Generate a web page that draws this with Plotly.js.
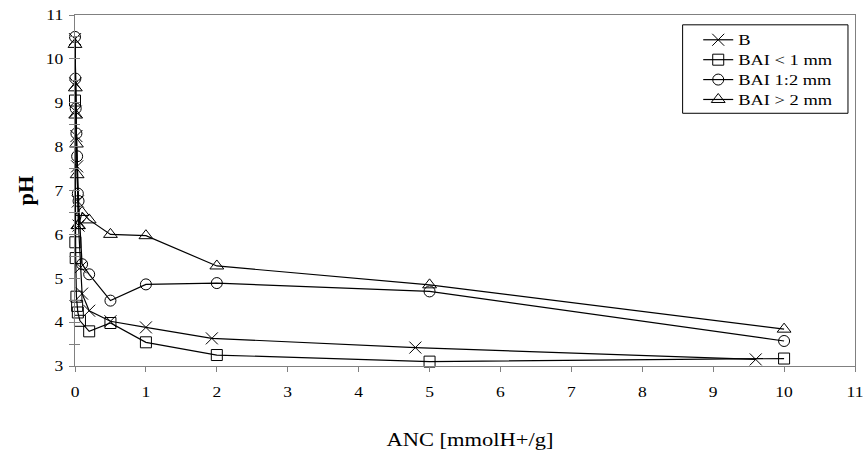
<!DOCTYPE html>
<html>
<head>
<meta charset="utf-8">
<script src="https://cdn.plot.ly/plotly-3.0.1.min.js"></script>
<style>
  html, body { margin: 0; padding: 0; background: #fff; }
  #chart { width: 865px; height: 475px; }
</style>
</head>
<body>
<div id="chart"></div>
<script>
// Titration curves: pH against acid neutralising capacity
const seriesNames = ["B", "BAI < 1 mm", "BAI 1:2 mm", "BAI > 2 mm"];

const xB = [0, 0.005, 0.01, 0.02, 0.03, 0.04, 0.05, 0.08, 0.1, 0.2, 0.5, 1, 1.93, 4.8, 9.6];
const yB = [10.45, 9.44, 8.8, 8.24, 7.55, 6.75, 6.2, 5.25, 4.65, 4.26, 4.02, 3.88, 3.63, 3.42, 3.15];

const xSmall = [0, 0.005, 0.01, 0.02, 0.03, 0.04, 0.07, 0.2, 0.5, 1, 2, 5, 10];
const ySmall = [9.05, 5.82, 5.46, 4.58, 4.37, 4.22, 4.03, 3.79, 3.98, 3.54, 3.25, 3.1, 3.17];

const xMid = [0, 0.005, 0.01, 0.02, 0.03, 0.04, 0.05, 0.1, 0.2, 0.5, 1, 2, 5, 10];
const yMid = [10.5, 9.55, 8.87, 8.3, 7.78, 6.93, 6.76, 5.32, 5.09, 4.49, 4.86, 4.89, 4.7, 3.57];

const xLarge = [0, 0.005, 0.01, 0.02, 0.03, 0.04, 0.05, 0.1, 0.2, 0.5, 1, 2, 5, 10];
const yLarge = [10.33, 9.34, 8.72, 8.06, 7.36, 6.2, 6.2, 6.5, 6.33, 6.0, 5.97, 5.28, 4.85, 3.84];

const xTicks = [0, 1, 2, 3, 4, 5, 6, 7, 8, 9, 10, 11];
const yTicks = [3, 4, 5, 6, 7, 8, 9, 10, 11];

const FONT = "Liberation Serif";
const AXIS_GREY = "#808080";

function series(name, x, y, symbol, size) {
  return {
    type: "scatter",
    mode: "lines+markers",
    name: name,
    x: x,
    y: y,
    line: { color: "#000", width: 1.2 },
    marker: {
      symbol: symbol,
      size: size,
      color: "#000",
      line: { color: "#000", width: 1 }
    },
    cliponaxis: false
  };
}

const traces = [
  series(seriesNames[0], xB, yB, "x-thin-open", 12),
  series(seriesNames[1], xSmall, ySmall, "square-open", 11),
  series(seriesNames[2], xMid, yMid, "circle-open", 11),
  series(seriesNames[3], xLarge, yLarge, "triangle-up-open", 12)
];

// second, label-free y axis gives the inward half of the crossing ticks
traces.push({
  type: "scatter", x: [], y: [], yaxis: "y2", showlegend: false, hoverinfo: "skip"
});

const layout = {
  width: 865,
  height: 475,
  margin: { l: 75, r: 10, t: 15, b: 109 },
  paper_bgcolor: "#fff",
  plot_bgcolor: "#fff",
  font: { family: FONT, color: "#000", size: 14 },
  showlegend: true,
  legend: {
    x: 0.799, xanchor: "left",
    y: 0.972, yanchor: "top",
    bgcolor: "rgba(0,0,0,0)",
    borderwidth: 0,
    font: { family: FONT, size: 13, color: "#000" },
    tracegroupgap: 0
  },
  // frame round the legend entries
  shapes: [{
    type: "rect", xref: "paper", yref: "paper",
    x0: 0.779, x1: 0.991, y0: 0.72, y1: 0.972,
    line: { color: "#000", width: 1 }, fillcolor: "rgba(0,0,0,0)"
  }],
  xaxis: {
    range: [0, 11],
    tickvals: xTicks,
    ticktext: xTicks.map(String),
    ticks: "outside",
    ticklen: 5,
    tickcolor: AXIS_GREY,
    ticklabelstandoff: 8,
    showgrid: false,
    zeroline: false,
    showline: true,
    linecolor: AXIS_GREY,
    linewidth: 1,
    mirror: true,
    tickfont: { family: FONT, size: 14, color: "#000" },
    title: {
      text: "ANC [mmolH+/g]",
      font: { family: FONT, size: 18, color: "#000" },
      standoff: 34
    }
  },
  yaxis: {
    range: [3, 11],
    tickvals: yTicks,
    ticktext: yTicks.map(String),
    ticks: "outside",
    ticklen: 5,
    tickcolor: AXIS_GREY,
    ticklabelstandoff: 3,
    minor: { dtick: 0.5, ticks: "outside", ticklen: 5, tickcolor: AXIS_GREY, showgrid: false },
    showgrid: false,
    zeroline: false,
    showline: true,
    linecolor: AXIS_GREY,
    linewidth: 1,
    mirror: true,
    tickfont: { family: FONT, size: 14, color: "#000" },
    title: {
      text: "<b>pH</b>",
      font: { family: FONT, size: 20, color: "#000" },
      standoff: 10
    }
  },
  yaxis2: {
    overlaying: "y",
    side: "left",
    range: [3, 11],
    tickvals: yTicks,
    ticks: "inside",
    ticklen: 5,
    tickcolor: AXIS_GREY,
    minor: { dtick: 0.5, ticks: "inside", ticklen: 5, tickcolor: AXIS_GREY, showgrid: false },
    showticklabels: false,
    showgrid: false,
    zeroline: false,
    showline: false
  }
};

// The lettering of this chart is set wide; rescale each text run about an anchor point.
function reshape(gd, selector, sx, sy, anchor, dx) {
  gd.querySelectorAll(selector).forEach(function (el) {
    const b = el.getBBox();
    if (!b.width) return;
    const cx = anchor === "start" ? b.x : anchor === "end" ? b.x + b.width : b.x + b.width / 2;
    const cy = b.y + b.height / 2;
    const t = el.getAttribute("transform") || "";
    el.setAttribute("transform",
      t + " translate(" + (cx + (dx || 0)) + "," + cy + ") scale(" + sx + "," + sy + ") translate(" + (-cx) + "," + (-cy) + ")");
  });
}

Plotly.newPlot("chart", traces, layout, { staticPlot: true, displayModeBar: false })
  .then(function (gd) {
    // let the widened legend labels run past the legend's own clip box
    gd.querySelectorAll(".legend [clip-path]").forEach(function (el) {
      el.removeAttribute("clip-path");
    });
    reshape(gd, ".xtick text", 1.25, 1.08, "middle");
    reshape(gd, ".ytick text", 1.25, 1.08, "end");
    reshape(gd, ".g-xtitle text", 1.25, 1.06, "middle", 5);
    reshape(gd, ".g-ytitle text", 1.12, 1.0, "middle");
    reshape(gd, ".legendtext", 1.42, 1.12, "start");
  });
</script>
</body>
</html>
